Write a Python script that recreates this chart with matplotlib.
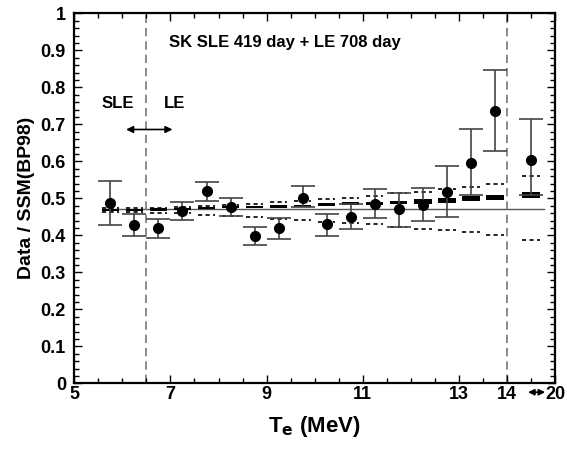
import numpy as np
import matplotlib
matplotlib.use('Agg')
import matplotlib.pyplot as plt
from matplotlib.ticker import MultipleLocator, FixedLocator, FuncFormatter

plt.rcParams['font.family'] = ['Liberation Sans', 'DejaVu Sans']
plt.rcParams['font.weight'] = 'bold'

# bin centres on the drawn axis (last bin 14-20 MeV is squeezed into 14-15)
x = [5.75, 6.25, 6.75, 7.25, 7.75, 8.25, 8.75, 9.25, 9.75, 10.25,
     10.75, 11.25, 11.75, 12.25, 12.75, 13.25, 13.75, 14.5]
# measured Data/SSM with statistical errors
y = [0.488, 0.427, 0.419, 0.466, 0.520, 0.477, 0.399, 0.419, 0.502, 0.430,
     0.450, 0.486, 0.470, 0.482, 0.518, 0.596, 0.737, 0.604]
y_hi = [0.548, 0.457, 0.444, 0.490, 0.543, 0.502, 0.423, 0.446, 0.532, 0.458,
        0.484, 0.525, 0.515, 0.529, 0.588, 0.686, 0.847, 0.714]
y_lo = [0.427, 0.397, 0.394, 0.441, 0.494, 0.453, 0.374, 0.391, 0.476, 0.399,
        0.416, 0.446, 0.423, 0.439, 0.449, 0.510, 0.628, 0.510]
# energy correlated systematic band
sys_hi = [0.474, 0.474, 0.475, 0.477, 0.479, 0.481, 0.485, 0.489, 0.493, 0.497,
          0.500, 0.507, 0.514, 0.518, 0.526, 0.531, 0.539, 0.559]
sys_lo = [0.464, 0.462, 0.461, 0.459, 0.455, 0.453, 0.449, 0.445, 0.441, 0.437,
          0.432, 0.430, 0.423, 0.418, 0.414, 0.408, 0.402, 0.388]
# expected spectrum (black boxes)
pred_mid = [0.468, 0.469, 0.470, 0.472, 0.474, 0.476, 0.477, 0.478, 0.480, 0.483,
            0.485, 0.487, 0.489, 0.491, 0.495, 0.499, 0.502, 0.508]
pred_half = [0.003, 0.003, 0.003, 0.003, 0.003, 0.003, 0.003, 0.003, 0.003, 0.004,
             0.004, 0.004, 0.005, 0.006, 0.007, 0.007, 0.007, 0.008]
flat = 0.47

xticks = [5, 7, 9, 11, 13, 14, 15]
xticklabels = ['5', '7', '9', '11', '13', '14', '20']

x = np.array(x)
y = np.array(y)
fig = plt.figure(figsize=(5.67, 4.51), dpi=100)
ax = fig.add_axes([0.131, 0.150, 0.848, 0.8205])

w = 0.36
# flat line
ax.plot([5.57, 14.76], [flat, flat], color='#555555', lw=1.0, zorder=1)
# vertical separators
for xv in [6.5, 14]:
    ax.axvline(xv, color='#777777', lw=1.2, ls=(0, (5, 3)), zorder=1)
# systematic band dashes
ax.hlines(sys_hi, x - w / 2, x + w / 2, colors='black', lw=1.2, linestyles=(0, (2.5, 2)), zorder=2)
ax.hlines(sys_lo, x - w / 2, x + w / 2, colors='black', lw=1.2, linestyles=(0, (2.5, 2)), zorder=2)
# expected boxes
ph = np.array(pred_half)
ax.bar(x, 2 * ph, bottom=np.array(pred_mid) - ph, width=w, color='black', zorder=3)
# data
ax.errorbar(x, y, yerr=[y - np.array(y_lo), np.array(y_hi) - y], fmt='o', color='black',
            ecolor='#444444', elinewidth=1.2, capsize=8.5, capthick=1.2, ms=7, zorder=4)

ax.set_xlim(5, 15)
ax.set_ylim(0, 1)
ax.xaxis.set_major_locator(FixedLocator(xticks))
ax.set_xticklabels(xticklabels)
ax.xaxis.set_minor_locator(MultipleLocator(0.5))
ax.yaxis.set_major_locator(MultipleLocator(0.1))
ax.yaxis.set_minor_locator(MultipleLocator(0.02))
ax.yaxis.set_major_formatter(FuncFormatter(lambda v, p: '%g' % round(v, 2)))
ax.tick_params(which='both', direction='in', top=True, right=True, labelsize=13, width=1.0)
ax.tick_params(which='major', length=6)
ax.tick_params(which='minor', length=3.5)
ax.tick_params(axis='x', pad=2)
ax.tick_params(axis='y', pad=6)
for s in ax.spines.values():
    s.set_linewidth(1.6)

ax.annotate('', xy=(14.85, -0.024), xytext=(14.38, -0.024),
            xycoords=('data', 'axes fraction'), textcoords=('data', 'axes fraction'),
            arrowprops=dict(arrowstyle='<|-|>', color='black', lw=1.2, mutation_scale=9),
            annotation_clip=False)

ax.text(6.97, 0.922, 'SK SLE 419 day + LE 708 day', fontsize=12, fontweight='bold', va='center')
ax.text(5.9, 0.757, 'SLE', fontsize=12, fontweight='bold', ha='center', va='center')
ax.text(7.08, 0.757, 'LE', fontsize=12, fontweight='bold', ha='center', va='center')
ax.annotate('', xy=(7.1, 0.686), xytext=(6.02, 0.686),
            arrowprops=dict(arrowstyle='<|-|>', color='black', lw=1.2, mutation_scale=10))

ax.set_ylabel('Data / SSM(BP98)', fontsize=14, fontweight='bold', labelpad=4)
ax.set_xlabel(r'T$_\mathbf{e}$ (MeV)', fontsize=16, fontweight='bold', labelpad=8)

fig.savefig('out.png', dpi=100)
